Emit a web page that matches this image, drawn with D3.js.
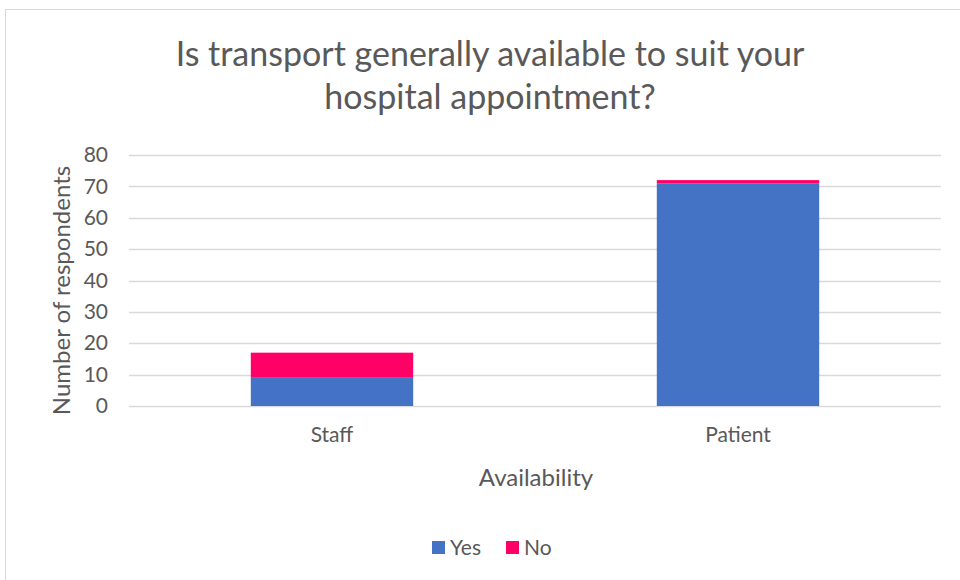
<!DOCTYPE html>
<html>
<head>
<meta charset="utf-8">
<script src="https://cdn.jsdelivr.net/npm/d3@7"></script>
<style>
  body { margin: 0; background: #fff; }
  svg { display: block; font-family: Lato, "Open Sans", sans-serif; }
</style>
</head>
<body>
<div id="chart"></div>
<script>
// data
var categories = ['Staff', 'Patient'];
var seriesNames = ['Yes', 'No'];
var yesValues = [9, 71];
var noValues = [8, 1];
var yTicks = [0, 10, 20, 30, 40, 50, 60, 70, 80];

var width = 960, height = 580;
var colors = {Yes: '#4472c4', No: '#ff0066'};
var textColor = '#595959';

var margin = {top: 155, right: 19, bottom: 174, left: 129};
var plotW = width - margin.left - margin.right;
var plotH = height - margin.top - margin.bottom;

var svg = d3.select('#chart').append('svg')
    .attr('width', width)
    .attr('height', height);

// outer chart border (cut off on the right / bottom like the screenshot)
svg.append('rect')
    .attr('x', 5.5).attr('y', 9.5)
    .attr('width', 980).attr('height', 600)
    .attr('fill', 'none')
    .attr('stroke', '#d9d9d9')
    .attr('stroke-width', 1);

// title
var title = svg.append('text')
    .attr('text-anchor', 'middle')
    .attr('fill', textColor)
    .style('font-size', '34px');
title.append('tspan').attr('x', 490).attr('y', 66).text('Is transport generally available to suit your');
title.append('tspan').attr('x', 490).attr('y', 109).text('hospital appointment?');

var table = categories.map(function(c, i) {
    return {category: c, Yes: yesValues[i], No: noValues[i]};
});
var stacked = d3.stack().keys(seriesNames)(table);

var x = d3.scaleBand()
    .domain(categories)
    .range([0, plotW])
    .paddingInner(0.6)
    .paddingOuter(0.3);

var y = d3.scaleLinear()
    .domain([0, 80])
    .range([plotH, 0]);

var g = svg.append('g')
    .attr('transform', 'translate(' + margin.left + ',' + margin.top + ')');

// gridlines
g.append('g')
    .selectAll('line')
    .data(yTicks)
    .enter()
    .append('line')
    .attr('x1', 0)
    .attr('x2', plotW)
    .attr('y1', function(d) { return Math.round(y(d)) + 0.5; })
    .attr('y2', function(d) { return Math.round(y(d)) + 0.5; })
    .attr('stroke', '#d9d9d9')
    .attr('stroke-width', 1.5);

// y axis labels
var yAxis = d3.axisLeft(y).tickValues(yTicks).tickSize(0).tickPadding(21);
var yg = g.append('g').call(yAxis);
yg.select('.domain').remove();
yg.selectAll('text')
    .attr('fill', textColor)
    .style('font-size', '21px')
    .style('font-family', 'Lato, "Open Sans", sans-serif');

// bars
g.selectAll('.series')
    .data(stacked)
    .enter()
    .append('g')
    .attr('class', 'series')
    .attr('fill', function(d) { return colors[d.key]; })
    .selectAll('rect')
    .data(function(d) { return d; })
    .enter()
    .append('rect')
    .attr('x', function(d) { return x(d.data.category); })
    .attr('y', function(d) { return y(d[1]); })
    .attr('width', x.bandwidth())
    .attr('height', function(d) { return y(d[0]) - y(d[1]); });

// x axis labels
var xAxis = d3.axisBottom(x).tickSize(0).tickPadding(21);
var xg = g.append('g')
    .attr('transform', 'translate(0,' + plotH + ')')
    .call(xAxis);
xg.select('.domain').remove();
xg.selectAll('text')
    .attr('fill', textColor)
    .style('font-size', '21px')
    .style('font-family', 'Lato, "Open Sans", sans-serif');

// axis titles
svg.append('text')
    .attr('x', margin.left + plotW / 2 + 1)
    .attr('y', 486)
    .attr('text-anchor', 'middle')
    .attr('fill', textColor)
    .style('font-size', '24px')
    .text('Availability');

svg.append('text')
    .attr('transform', 'translate(70,' + (margin.top + plotH / 2 + 10) + ') rotate(-90)')
    .attr('text-anchor', 'middle')
    .attr('fill', textColor)
    .style('font-size', '24px')
    .text('Number of respondents');

// legend
var legend = svg.append('g')
    .attr('transform', 'translate(432,548)');
var legendItems = legend.selectAll('g')
    .data(seriesNames)
    .enter()
    .append('g')
    .attr('transform', function(d, i) { return 'translate(' + (i * 74) + ',0)'; });
legendItems.append('rect')
    .attr('x', 0).attr('y', -7)
    .attr('width', 13).attr('height', 13)
    .attr('fill', function(d) { return colors[d]; });
legendItems.append('text')
    .attr('x', 18)
    .attr('y', 7)
    .attr('fill', textColor)
    .style('font-size', '21px')
    .text(function(d) { return d; });
</script>
</body>
</html>
